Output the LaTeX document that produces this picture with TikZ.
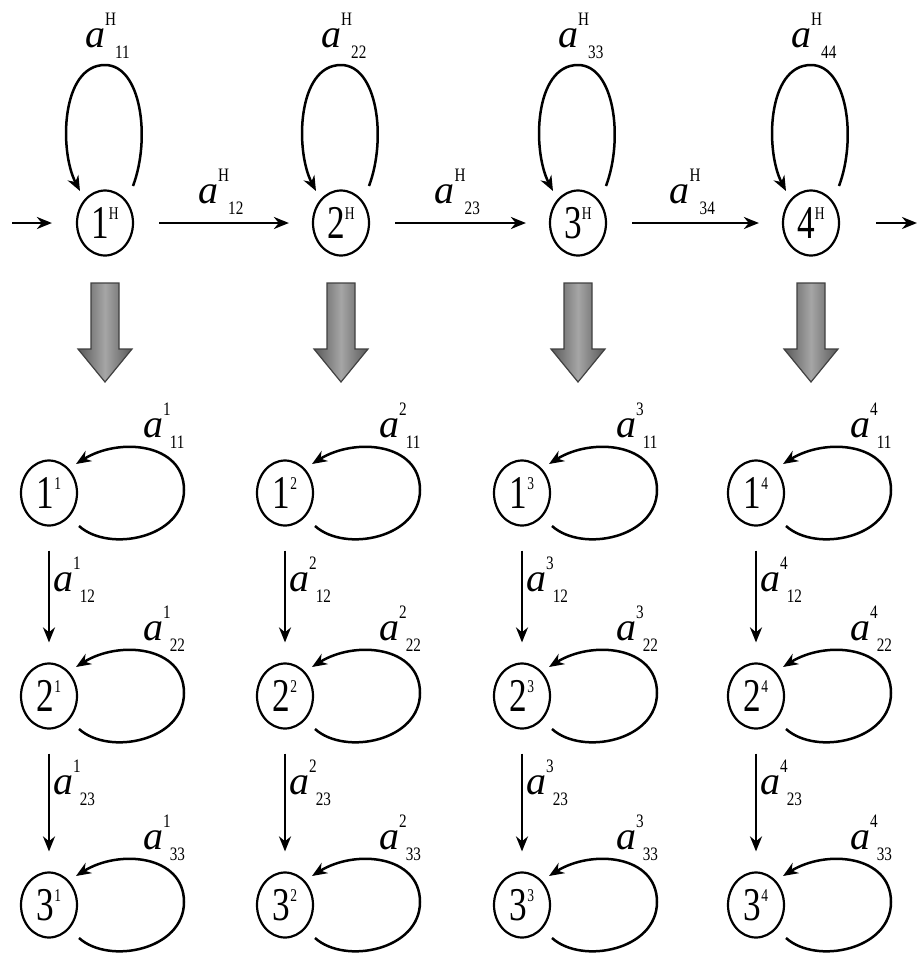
\documentclass[tikz,border=0pt]{standalone}
\usepackage{fontspec}
\usepackage{graphicx}
\setmainfont{Liberation Serif}
\usetikzlibrary{arrows.meta,calc,shapes.geometric}

\newcommand\NodeTxt[2]{\scalebox{0.75}[1]{\fontsize{47}{47}\selectfont #1\raisebox{19pt}{\fontsize{18}{18}\selectfont #2}}}
\newcommand\ALab[2]{{\fontsize{40}{40}\selectfont\textit{a}}\raisebox{22pt}{\scalebox{0.8}[1]{\fontsize{19}{19}\selectfont #1}}\kern-1pt\raisebox{-11pt}{\scalebox{0.8}[1]{\fontsize{19}{19}\selectfont #2}}}

\tikzset{
  st/.style={draw, ellipse, line width=2.2pt, minimum width=56pt, minimum height=65pt, inner sep=0pt},
  tr/.style={-{Stealth[length=15pt,width=12pt]}, line width=2.5pt},
  lab/.style={anchor=base west, inner sep=0pt},
  big/.style={draw=black!75, line width=1.2pt, left color=black!65, right color=black!65, middle color=black!35}
}

\begin{document}
\begin{tikzpicture}[x=1pt,y=1pt]
\useasboundingbox (0,0) rectangle (917,-954);

% top row
\foreach \i/\x in {1/105, 2/341, 3/578, 4/811} {
  \node[st] (h\i) at (\x,-223) {\NodeTxt{\i}{H}};
}
\coordinate (in) at (12,-223);
\coordinate (out) at (917,-223);

\draw[tr, shorten >=24pt] (in) -- (h1);
\draw[tr, shorten <=25pt, shorten >=23pt] (h1) -- (h2);
\draw[tr, shorten <=25pt, shorten >=23pt] (h2) -- (h3);
\draw[tr, shorten <=25pt, shorten >=23pt] (h3) -- (h4);
\draw[tr, shorten <=36pt] (h4) -- (out);

\foreach \i/\j in {1/2, 2/3, 3/4} {
  \path (h\i) -- (h\j) coordinate[midway] (m\i\j);
  \node[lab] at ($(m\i\j)+(-25,20)$) {\ALab{H}{\i\j}};
}

% top self loops, labels and big arrows
\foreach \i in {1,2,3,4} {
  \draw[tr] ($(h\i)+(28,37)$) .. controls ($(h\i)+(46,85)$) and ($(h\i)+(36,158)$) ..
            ($(h\i)+(0,158)$) .. controls ($(h\i)+(-44,158)$) and ($(h\i)+(-46,72)$) ..
            ($(h\i)+(-25,32)$);
  \node[lab] at ($(h\i)+(-20,176)$) {\ALab{H}{\i\i}};
  \draw[big] ($(h\i)+(-14,-60)$) -- ($(h\i)+(14,-60)$) -- ($(h\i)+(14,-126)$) --
             ($(h\i)+(27,-126)$) -- ($(h\i)+(0,-159)$) -- ($(h\i)+(-27,-126)$) --
             ($(h\i)+(-14,-126)$) -- cycle;
}

% bottom columns
\foreach \c/\x in {1/49, 2/285, 3/522, 4/756} {
  \node[st] (b\c1) at (\x,-493) {\NodeTxt{1}{\c}};
  \node[st] (b\c2) at (\x,-696) {\NodeTxt{2}{\c}};
  \node[st] (b\c3) at (\x,-905) {\NodeTxt{3}{\c}};
}

\foreach \c in {1,2,3,4} {
  \foreach \r in {1,2,3} {
    \draw[tr] ($(b\c\r)+(30,-33)$) .. controls ($(b\c\r)+(60,-60)$) and ($(b\c\r)+(135,-45)$) ..
              ($(b\c\r)+(135,3)$) .. controls ($(b\c\r)+(135,50)$) and ($(b\c\r)+(70,56)$) ..
              ($(b\c\r)+(27,29)$);
    \node[lab] at ($(b\c\r)+(94,56)$) {\ALab{\c}{\r\r}};
  }
  \draw[tr, shorten <=24pt, shorten >=20pt] (b\c1) -- (b\c2);
  \draw[tr, shorten <=24pt, shorten >=20pt] (b\c2) -- (b\c3);
  \path (b\c1) -- (b\c2) coordinate[midway] (v\c12);
  \path (b\c2) -- (b\c3) coordinate[midway] (v\c23);
  \node[lab] at ($(v\c12)+(4,3)$) {\ALab{\c}{12}};
  \node[lab] at ($(v\c23)+(4,6)$) {\ALab{\c}{23}};
}
\end{tikzpicture}
\end{document}
